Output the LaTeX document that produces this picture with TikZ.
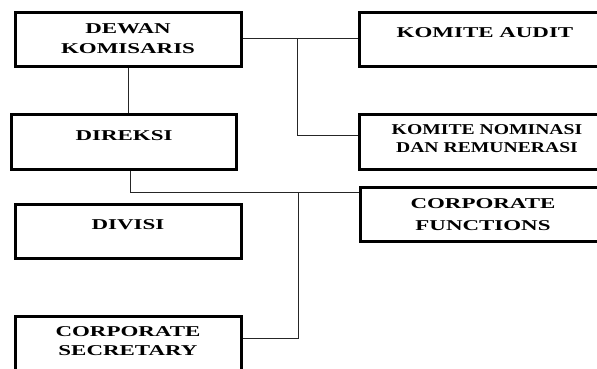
\documentclass[tikz,border=0pt]{standalone}
\usepackage{fontspec}
\usepackage{graphicx}
\setmainfont{Liberation Serif}
% widened bold caption, rows set on a fixed pitch
\newcommand\orgtext[3]{\scalebox{#1}[1]{\fontsize{15}{#2}\selectfont\bfseries\begin{tabular}{@{}c@{}}#3\end{tabular}}}
\begin{document}
\begin{tikzpicture}[x=1pt,y=-1pt,
  orgbox/.style={draw=black,line width=3pt,rectangle,inner sep=0pt},
  lbl/.style={inner sep=0pt,anchor=center},
  link/.style={draw=black!85,line width=0.9pt}]
  \useasboundingbox (0,0) rectangle (597,368);
  \clip (0,0) rectangle (597,368);
  \fill[white] (0,0) rectangle (597,368);

  % boxes
  \node[orgbox,minimum width=226pt,minimum height=54pt] (dk)  at (128.5,39.5) {};
  \node[orgbox,minimum width=225pt,minimum height=55pt] (dir) at (124,142) {};
  \node[orgbox,minimum width=226pt,minimum height=54pt] (div) at (128.5,231.5) {};
  \node[orgbox,minimum width=226pt,minimum height=54pt] (cs)  at (128.5,343.5) {};
  \node[orgbox,minimum width=250pt,minimum height=54pt] (ka)  at (484.5,39.5) {};
  \node[orgbox,minimum width=250pt,minimum height=55pt] (kn)  at (484.5,142) {};
  \node[orgbox,minimum width=249pt,minimum height=54pt] (cf)  at (485,214.5) {};

  % captions
  \node[lbl] (dk-t)  at (128,39)  {\orgtext{1.53}{20}{DEWAN\\KOMISARIS}};
  \node[lbl] (dir-t) at (124,136) {\orgtext{1.53}{20}{DIREKSI}};
  \node[lbl] (div-t) at (128,225) {\orgtext{1.53}{20}{DIVISI}};
  \node[lbl] (cs-t)  at (128,342.5) {\orgtext{1.53}{19}{CORPORATE\\SECRETARY}};
  \node[lbl] (ka-t)  at (485,33)  {\orgtext{1.53}{20}{KOMITE AUDIT}};
  \node[lbl] (kn-t)  at (487,140) {\orgtext{1.31}{18}{KOMITE NOMINASI\\DAN REMUNERASI}};
  \node[lbl] (cf-t)  at (483,215) {\orgtext{1.53}{22}{CORPORATE\\FUNCTIONS}};

  % junction points
  \coordinate (j1) at (297,38);
  \coordinate (j2) at (297,135);
  \coordinate (j3) at (130,192);
  \coordinate (j4) at (298,192);
  \coordinate (j5) at (298,338);

  % connectors
  \draw[link] (dk.south) -- (dk.south |- dir.north);
  \draw[link] (dk.east |- j1) -- (ka.west |- j1);
  \draw[link] (j1) -- (j2) -- (kn.west |- j2);
  \draw[link] (j3 |- dir.south) -- (j3) -- (cf.west |- j3);
  \draw[link] (j4) -- (j5) -- (cs.east |- j5);
\end{tikzpicture}
\end{document}
